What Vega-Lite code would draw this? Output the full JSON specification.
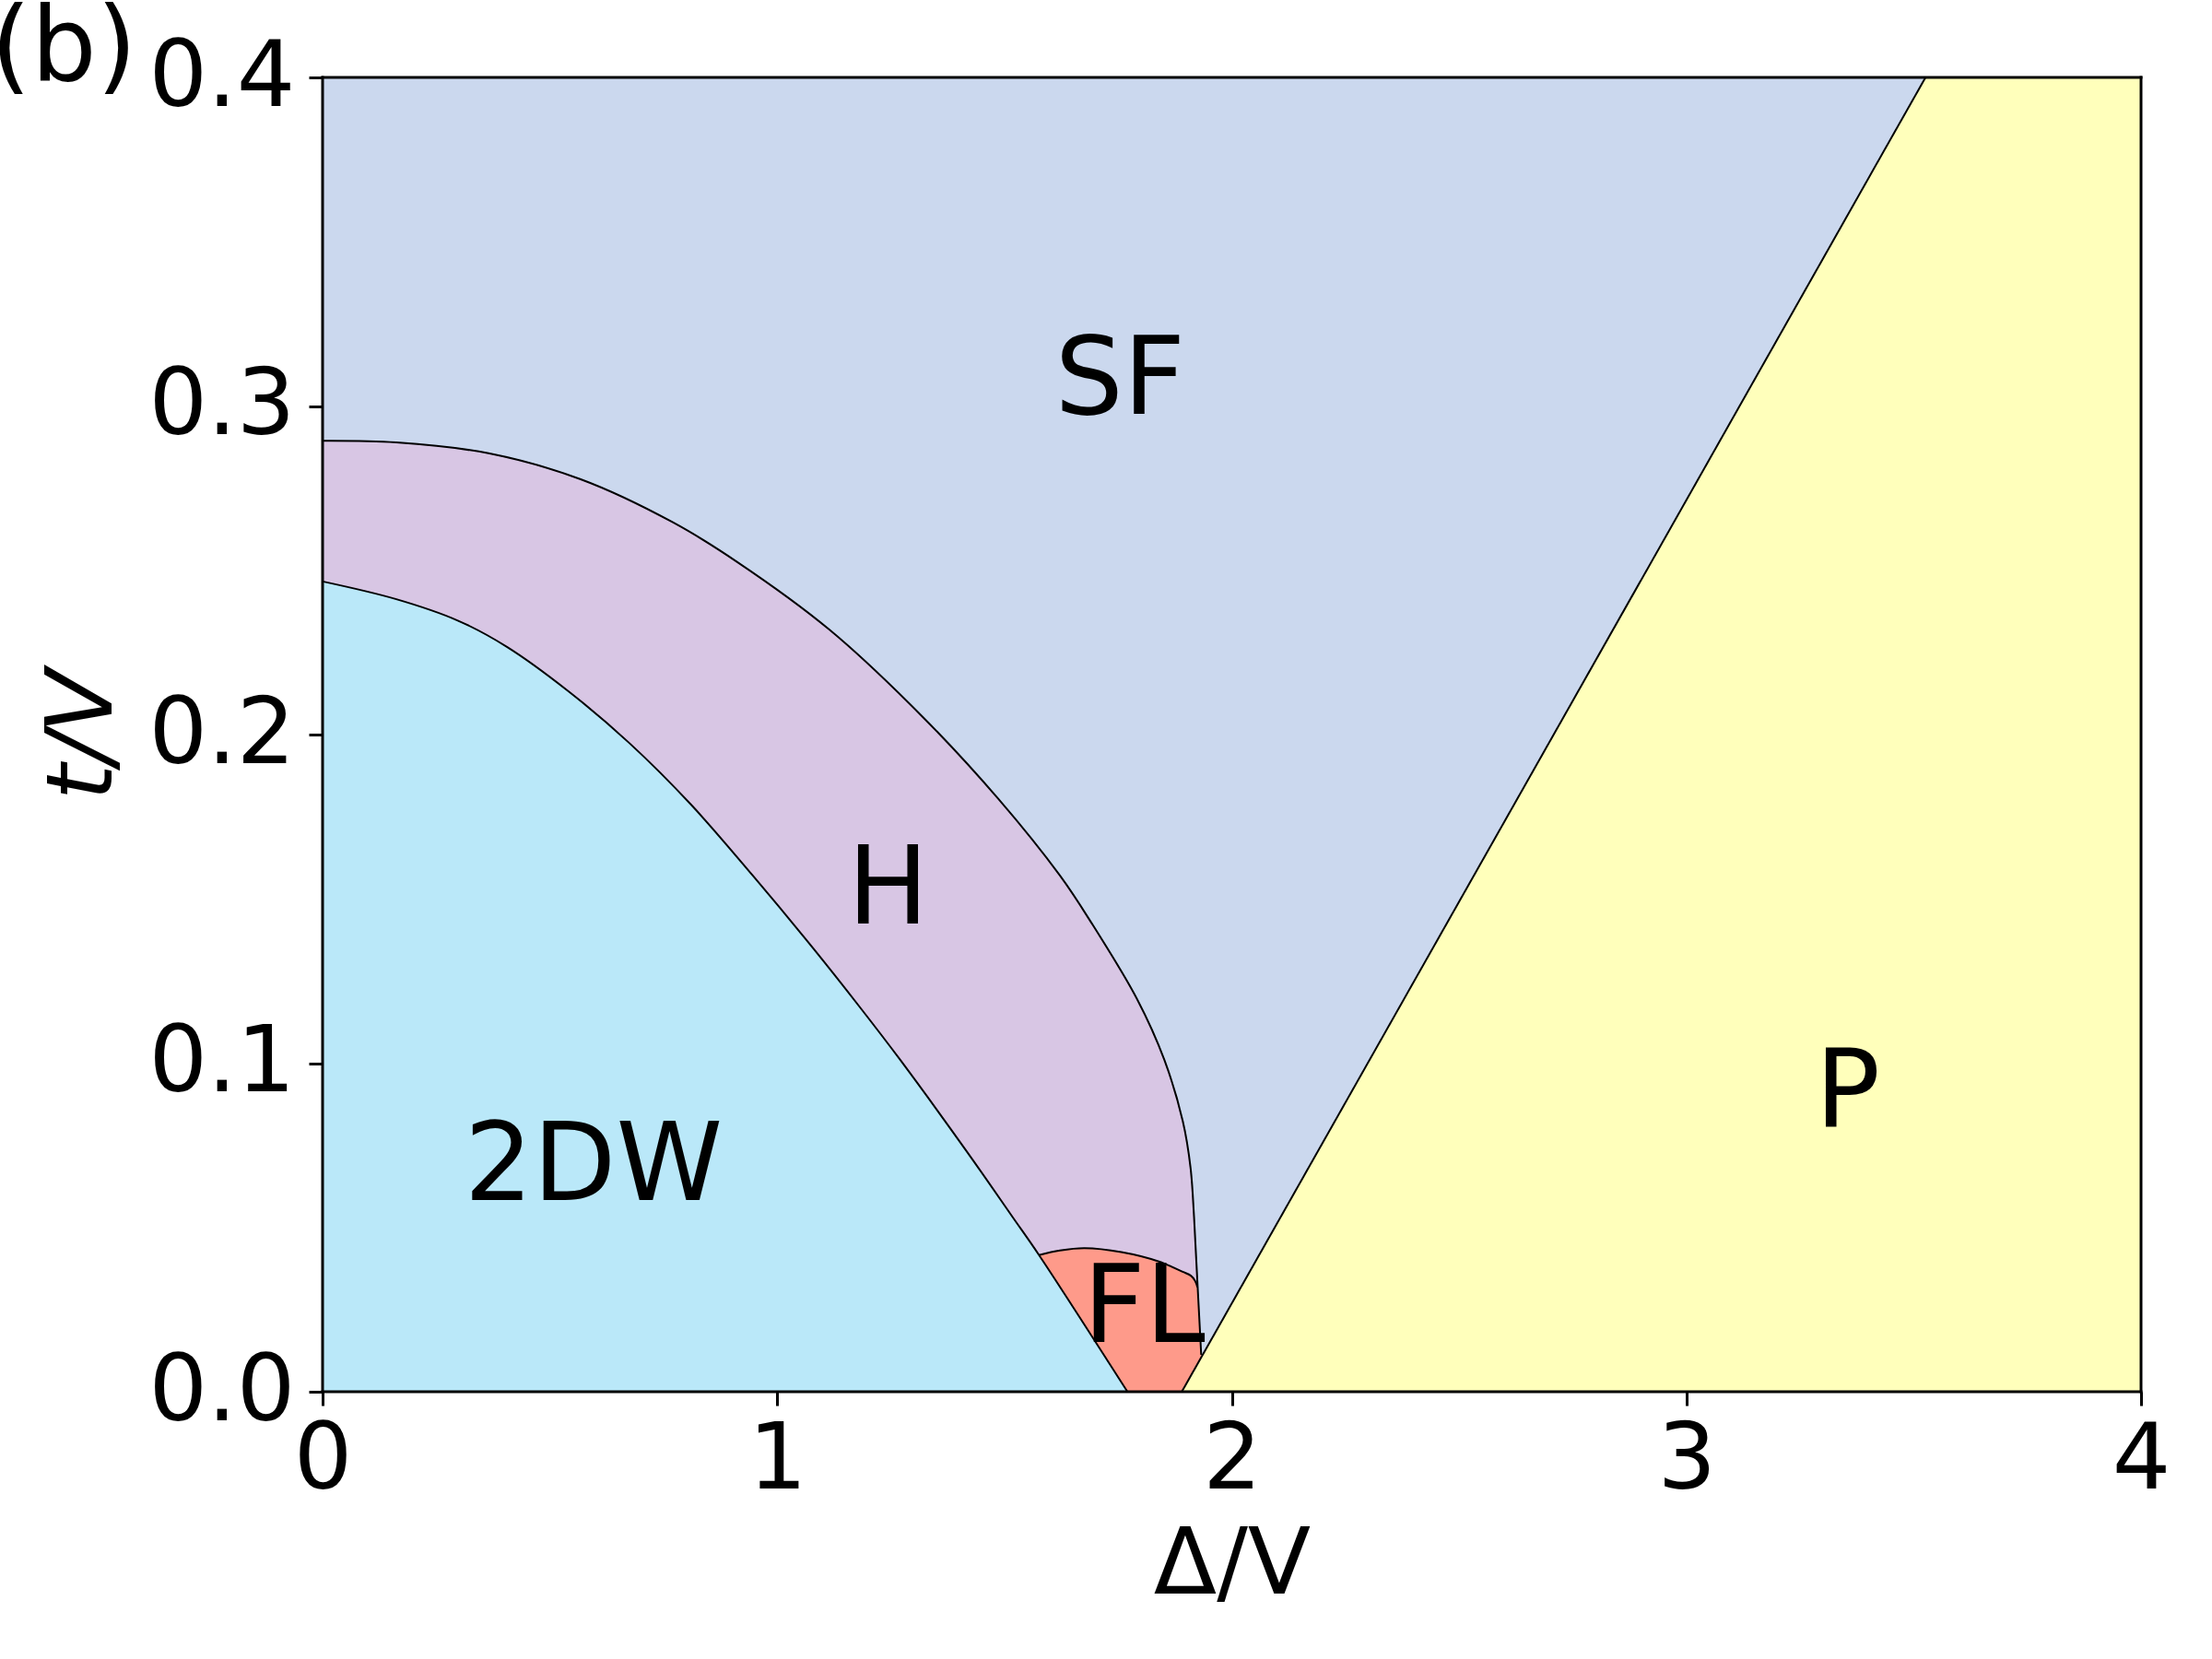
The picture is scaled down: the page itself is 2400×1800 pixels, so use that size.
{
  "$schema": "https://vega.github.io/schema/vega-lite/v6.json",
  "width": 1973,
  "height": 1426,
  "autosize": {"type": "none"},
  "padding": {"left": 350, "top": 84, "right": 77, "bottom": 290},
  "background": "white",
  "view": {"fill": "#CBD8EE", "stroke": null},
  "config": {"font": "DejaVu Sans"},
  "title": {
    "text": "(b)",
    "anchor": "start",
    "frame": "group",
    "fontSize": 112,
    "font": "DejaVu Sans",
    "fontWeight": "normal",
    "color": "black",
    "baseline": "alphabetic",
    "offset": 0,
    "dx": -360,
    "dy": 165
  },
  "datasets": {
    "hsf": [
      {"x": 0, "y": 0.2894}, {"x": 0.1622, "y": 0.2889}, {"x": 0.3649, "y": 0.2856},
      {"x": 0.5677, "y": 0.2777}, {"x": 0.7704, "y": 0.2646}, {"x": 0.9123, "y": 0.2525},
      {"x": 1.1151, "y": 0.2319}, {"x": 1.3178, "y": 0.2057}, {"x": 1.4867, "y": 0.1804},
      {"x": 1.6219, "y": 0.1571}, {"x": 1.6894, "y": 0.1431}, {"x": 1.7908, "y": 0.1197},
      {"x": 1.8516, "y": 0.101}, {"x": 1.8922, "y": 0.0823}, {"x": 1.9092, "y": 0.0682},
      {"x": 1.9169, "y": 0.0533}, {"x": 1.924, "y": 0.0342}, {"x": 1.9327, "y": 0.0112}
    ],
    "dw": [
      {"x": 0, "y": 0.2466}, {"x": 0.1622, "y": 0.2412}, {"x": 0.2974, "y": 0.2347},
      {"x": 0.4055, "y": 0.2267}, {"x": 0.5407, "y": 0.2132}, {"x": 0.6757, "y": 0.1973},
      {"x": 0.811, "y": 0.1786}, {"x": 0.9462, "y": 0.1571}, {"x": 1.0812, "y": 0.1346},
      {"x": 1.1826, "y": 0.1169}, {"x": 1.2706, "y": 0.101}, {"x": 1.4192, "y": 0.0727},
      {"x": 1.5171, "y": 0.0533}, {"x": 1.5759, "y": 0.0416}, {"x": 1.7705, "y": 0}
    ],
    "fl": [
      {"x": 1.5759, "y": 0.0416}, {"x": 1.622, "y": 0.043}, {"x": 1.676, "y": 0.0437},
      {"x": 1.757, "y": 0.0425}, {"x": 1.838, "y": 0.0397}, {"x": 1.892, "y": 0.0365},
      {"x": 1.91, "y": 0.0353}, {"x": 1.919, "y": 0.0338}, {"x": 1.9245, "y": 0.0318}
    ],
    "flArea": [
      {"x": 1.5759, "y": 0.0416}, {"x": 1.622, "y": 0.043}, {"x": 1.676, "y": 0.0437},
      {"x": 1.757, "y": 0.0425}, {"x": 1.838, "y": 0.0397}, {"x": 1.892, "y": 0.0365},
      {"x": 1.91, "y": 0.0353}, {"x": 1.919, "y": 0.0338}, {"x": 1.9245, "y": 0.0318},
      {"x": 1.9327, "y": 0.0112}
    ],
    "pArea": [
      {"x": 1.89, "y": 0}, {"x": 3.526, "y": 0.4}, {"x": 4, "y": 0.4}
    ],
    "pLine": [
      {"x": 1.89, "y": 0}, {"x": 3.526, "y": 0.4}
    ],
    "frame": [
      {"x": 0, "y": 0, "x2": 4, "y2": 0},
      {"x": 0, "y": 0.4, "x2": 4, "y2": 0.4},
      {"x": 0, "y": 0, "x2": 0, "y2": 0.4},
      {"x": 4, "y": 0, "x2": 4, "y2": 0.4}
    ],
    "labels": [
      {"x": 1.754, "y": 0.2976, "label": "SF"},
      {"x": 1.244, "y": 0.1425, "label": "H"},
      {"x": 0.596, "y": 0.0584, "label": "2DW"},
      {"x": 3.355, "y": 0.0805, "label": "P"},
      {"x": 1.8075, "y": 0.01515, "label": "FL"}
    ]
  },
  "encoding": {
    "x": {
      "field": "x",
      "type": "quantitative",
      "scale": {"domain": [0, 4], "nice": false, "zero": false},
      "axis": {
        "values": [0, 1, 2, 3, 4],
        "format": "d",
        "title": "Δ/V",
        "domain": false,
        "grid": false,
        "tickSize": 15,
        "tickWidth": 3,
        "tickColor": "black",
        "labelFontSize": 100,
        "labelFont": "DejaVu Sans",
        "labelColor": "black",
        "labelPadding": 10,
        "labelFlush": false,
        "labelOverlap": false,
        "labelBound": false,
        "titleFontSize": 100,
        "titleFont": "DejaVu Sans",
        "titleFontWeight": "normal",
        "titleColor": "black",
        "titlePadding": 15,
        "zindex": 1
      }
    },
    "y": {
      "field": "y",
      "type": "quantitative",
      "stack": null,
      "scale": {"domain": [0, 0.4], "nice": false, "zero": false},
      "axis": {
        "values": [0, 0.1, 0.2, 0.3, 0.4],
        "format": ".1f",
        "title": "t/V",
        "domain": false,
        "grid": false,
        "tickSize": 15,
        "tickWidth": 3,
        "tickColor": "black",
        "labelFontSize": 100,
        "labelFont": "DejaVu Sans",
        "labelColor": "black",
        "labelPadding": 15,
        "labelFlush": false,
        "labelOverlap": false,
        "labelBound": false,
        "titleFontSize": 100,
        "titleFont": "DejaVu Sans",
        "titleFontStyle": "italic",
        "titleFontWeight": "normal",
        "titleColor": "black",
        "titlePadding": 19,
        "zindex": 1
      }
    }
  },
  "layer": [
    {"data": {"name": "hsf"}, "mark": {"type": "area", "interpolate": "catmull-rom", "color": "#D8C6E4", "opacity": 1}},
    {"data": {"name": "flArea"}, "mark": {"type": "area", "interpolate": "catmull-rom", "color": "#FE9A8A", "opacity": 1}},
    {"data": {"name": "dw"}, "mark": {"type": "area", "interpolate": "catmull-rom", "color": "#BAE8F9", "opacity": 1}},
    {"data": {"name": "pArea"}, "mark": {"type": "area", "interpolate": "linear", "color": "#FFFFBB", "opacity": 1}},
    {"data": {"name": "hsf"}, "mark": {"type": "line", "interpolate": "catmull-rom", "color": "black", "strokeWidth": 2}},
    {"data": {"name": "dw"}, "mark": {"type": "line", "interpolate": "catmull-rom", "color": "black", "strokeWidth": 2}},
    {"data": {"name": "fl"}, "mark": {"type": "line", "interpolate": "catmull-rom", "color": "black", "strokeWidth": 2}},
    {"data": {"name": "pLine"}, "mark": {"type": "line", "interpolate": "linear", "color": "black", "strokeWidth": 2}},
    {
      "data": {"name": "frame"},
      "mark": {"type": "rule", "color": "black", "strokeWidth": 3, "strokeCap": "square"},
      "encoding": {"x2": {"field": "x2"}, "y2": {"field": "y2"}}
    },
    {
      "data": {"name": "labels"},
      "mark": {"type": "text", "fontSize": 117, "font": "DejaVu Sans", "align": "center", "baseline": "alphabetic", "color": "black"},
      "encoding": {"text": {"field": "label"}}
    }
  ]
}
